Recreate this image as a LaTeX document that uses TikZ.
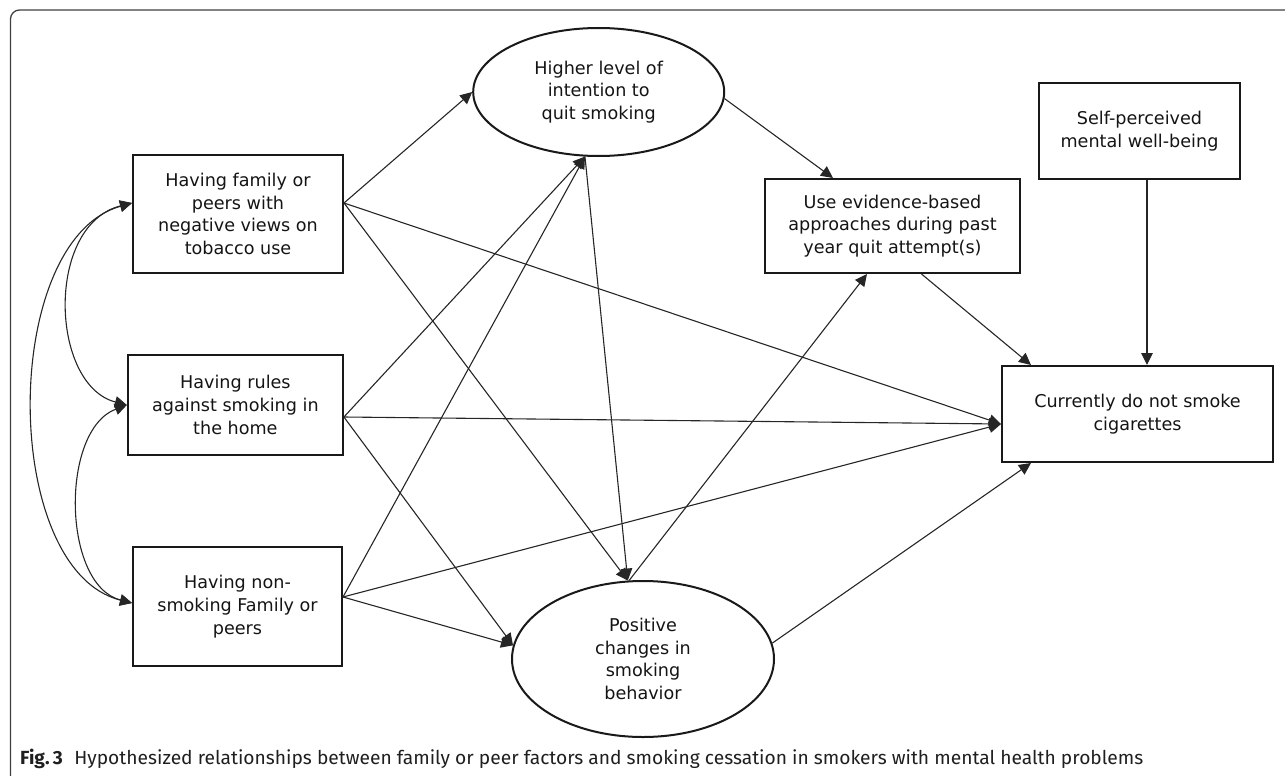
\documentclass[tikz,border=0pt]{standalone}
\usepackage{fontspec}
\setmainfont{DejaVu Sans}
\newfontfamily\capfont{Fira Sans}
\usetikzlibrary{shapes.geometric,arrows.meta}
\begin{document}
\begin{tikzpicture}[x=1pt,y=-1pt,
  txt/.style={align=center, inner sep=0pt, text=black!92, font=\fontsize{17.6}{22.8}\selectfont},
  box/.style={txt, draw=black!90, line width=2pt},
  oval/.style={txt, ellipse, draw=black!90, line width=2pt},
  link/.style={line width=1.1pt, draw=black!85, -{Triangle[length=12pt,width=11.5pt]}},
  twoway/.style={line width=1.1pt, draw=black!85, {Triangle[length=12pt,width=11.5pt]}-{Triangle[length=12pt,width=11.5pt]}},
  frame/.style={draw=black!75, line width=1.3pt, rounded corners=9pt}
]
\useasboundingbox (0,0) rectangle (1285,776);
\draw[frame] (10.5,780) -- (10.5,10) -- (1290,10);

% nodes
\node[box, minimum width=210pt, minimum height=118pt] (A) at (238,214) {Having family or\\peers with\\negative views on\\tobacco use};
\node[box, minimum width=215pt, minimum height=100pt] (B) at (235.4,405) {Having rules\\against smoking in\\the home};
\node[box, minimum width=209pt, minimum height=119pt] (C) at (237.5,606.5) {Having non-\\smoking Family or\\peers};
\node[oval, minimum width=251pt, minimum height=128pt] (H) at (598.7,92) {Higher level of\\intention to\\quit smoking};
\node[box, minimum width=255pt, minimum height=94pt] (U) at (892.5,226) {Use evidence-based\\approaches during past\\year quit attempt(s)};
\node[box, minimum width=201pt, minimum height=96pt] (S) at (1139.5,131) {Self-perceived\\mental well-being};
\node[box, minimum width=271pt, minimum height=96pt] (N) at (1137.5,414) {Currently do not smoke\\cigarettes};
\node[oval, minimum width=262pt, minimum height=156pt] (P) at (643,659) {Positive\\changes in\\smoking\\behavior};

% from A
\draw[link] ([yshift=11pt]A.east) -- (H.west);
\draw[link] ([yshift=11pt]A.east) -- ([yshift=-10pt]N.west);
\draw[link] ([yshift=11pt]A.east) -- (P.101);
% from B
\draw[link] ([yshift=-12pt]B.east) -- (H.258);
\draw[link] ([yshift=-12pt]B.east) -- ([yshift=-10pt]N.west);
\draw[link] ([yshift=-12pt]B.east) -- (P.174);
% from C
\draw[link] ([yshift=9.5pt]C.east) -- (H.258);
\draw[link] ([yshift=9.5pt]C.east) -- ([yshift=-10pt]N.west);
\draw[link] ([yshift=9.5pt]C.east) -- (P.174);
% mediators
\draw[link] (H.-3) -- ([xshift=-59.5pt]U.north);
\draw[link] (H.258) -- (P.101);
\draw[link] (P.100) -- ([xshift=-25.5pt]U.south);
\draw[link] ([xshift=29pt]U.south) -- ([xshift=-106.5pt]N.north);
\draw[link] ([xshift=7.5pt]S.south) -- ([xshift=7.5pt]S.south |- N.north);
\draw[link] (P.7) -- ([xshift=-106.5pt]N.south);

% covariances
\draw[twoway] ([yshift=11pt]A.west) .. controls (45,225) and (50,385) .. (B.west);
\draw[twoway] ([yshift=11pt]A.west) .. controls (0,240) and (0,570) .. ([yshift=3.5pt]C.west);
\draw[twoway] (B.west) .. controls (60,430) and (62,585) .. ([yshift=3.5pt]C.west);

% caption
\node[anchor=base west, inner sep=0pt, text=black!88] (cap) at (20,764)
  {\resizebox{1123pt}{\height}{\capfont\fontsize{19}{22}\selectfont\textbf{Fig.\,3}\hspace{0.6em}Hypothesized relationships between family or peer factors and smoking cessation in smokers with mental health problems}};
\end{tikzpicture}
\end{document}
